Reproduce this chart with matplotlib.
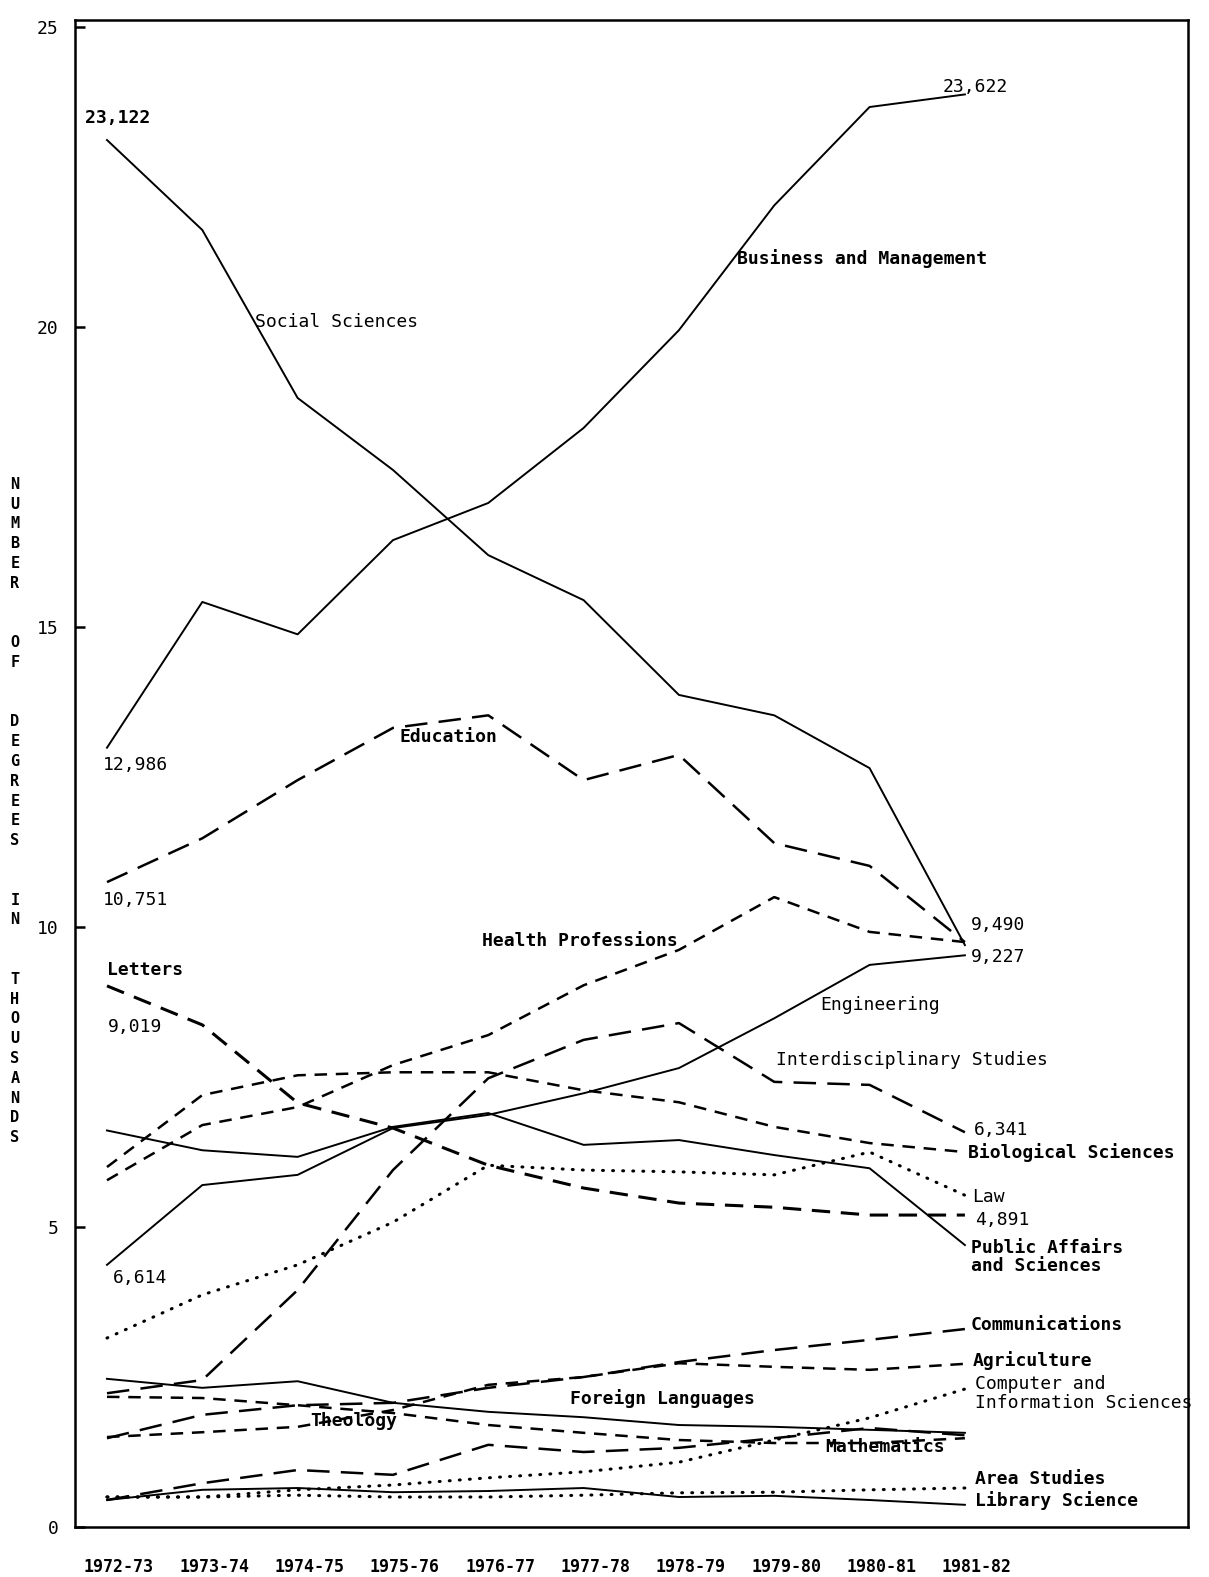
"""Degrees conferred by field of study, 1972-73 to 1981-82 (scanned line chart)."""

import matplotlib.pyplot as plt
from matplotlib import transforms

YEARS = ["1972-73", "1973-74", "1974-75", "1975-76", "1976-77",
         "1977-78", "1978-79", "1979-80", "1980-81", "1981-82"]

# values in thousands
SOCIAL_SCIENCES = [23.12, 21.62, 18.82, 17.62, 16.2, 15.45, 13.87, 13.53, 12.65, 9.7]
BUSINESS = [12.99, 15.42, 14.88, 16.45, 17.07, 18.32, 19.95, 22.03, 23.67, 23.88]
EDUCATION = [10.75, 11.48, 12.45, 13.32, 13.53, 12.45, 12.87, 11.4, 11.02, 9.75]
HEALTH = [5.78, 6.7, 7.0, 7.7, 8.2, 9.03, 9.62, 10.5, 9.92, 9.75]
ENGINEERING = [4.37, 5.7, 5.87, 6.65, 6.87, 7.23, 7.65, 8.48, 9.37, 9.53]
INTERDISCIPLINARY = [2.23, 2.45, 3.95, 5.95, 7.48, 8.12, 8.4, 7.42, 7.37, 6.58]
BIOLOGICAL = [6.0, 7.2, 7.53, 7.58, 7.58, 7.28, 7.08, 6.67, 6.4, 6.25]
PUBLIC_AFFAIRS = [6.61, 6.28, 6.17, 6.67, 6.9, 6.37, 6.45, 6.2, 5.98, 4.7]
LETTERS = [9.02, 8.37, 7.07, 6.65, 6.03, 5.65, 5.4, 5.33, 5.2, 5.2]
LAW = [3.15, 3.87, 4.37, 5.08, 6.03, 5.95, 5.92, 5.87, 6.25, 5.53]
FOREIGN_LANGUAGES = [2.47, 2.32, 2.43, 2.07, 1.92, 1.83, 1.7, 1.67, 1.62, 1.57]
COMMUNICATIONS = [1.48, 1.87, 2.03, 2.07, 2.32, 2.5, 2.75, 2.95, 3.12, 3.3]
AGRICULTURE = [1.5, 1.58, 1.67, 1.95, 2.37, 2.5, 2.73, 2.67, 2.62, 2.72]
MATHEMATICS = [2.17, 2.15, 2.03, 1.9, 1.7, 1.57, 1.45, 1.4, 1.4, 1.48]
THEOLOGY = [0.45, 0.73, 0.95, 0.87, 1.37, 1.25, 1.32, 1.48, 1.65, 1.53]
COMPUTER = [0.5, 0.5, 0.62, 0.7, 0.82, 0.92, 1.08, 1.45, 1.82, 2.3]
AREA_STUDIES = [0.5, 0.5, 0.53, 0.5, 0.5, 0.53, 0.57, 0.58, 0.62, 0.65]
LIBRARY_SCIENCE = [0.45, 0.62, 0.65, 0.58, 0.6, 0.65, 0.5, 0.52, 0.45, 0.37]

FONT = ["DejaVu Sans Mono"]

STYLES = {
    "solid": dict(linestyle="-", linewidth=1.4),
    "long": dict(linestyle=(0, (9, 4.5)), linewidth=1.8),
    "short": dict(linestyle=(0, (5, 3.5)), linewidth=1.8),
    "medium": dict(linestyle=(0, (6, 3.5)), linewidth=2.2),
    "dotted": dict(linestyle=(0, (0.3, 3.0)), linewidth=2.2,
                   dash_capstyle="round"),
}

SERIES = [
    (SOCIAL_SCIENCES, "solid"),
    (BUSINESS, "solid"),
    (EDUCATION, "long"),
    (HEALTH, "short"),
    (ENGINEERING, "solid"),
    (INTERDISCIPLINARY, "long"),
    (BIOLOGICAL, "short"),
    (PUBLIC_AFFAIRS, "solid"),
    (LETTERS, "medium"),
    (LAW, "dotted"),
    (FOREIGN_LANGUAGES, "solid"),
    (COMMUNICATIONS, "long"),
    (AGRICULTURE, "short"),
    (MATHEMATICS, "short"),
    (THEOLOGY, "long"),
    (COMPUTER, "dotted"),
    (AREA_STUDIES, "dotted"),
    (LIBRARY_SCIENCE, "solid"),
]

# (text, x, y, bold) in data coordinates
LABELS = [
    ("23,122", -0.23, 23.48, True),
    ("23,622", 8.77, 24.0, False),
    ("Business and Management", 6.61, 21.15, True),
    ("Social Sciences", 1.55, 20.08, False),
    ("12,986", -0.04, 12.7, False),
    ("Education", 3.07, 13.17, True),
    ("10,751", -0.04, 10.45, False),
    ("Health Professions", 3.93, 9.77, True),
    ("Letters", 0.0, 9.28, True),
    ("9,019", 0.01, 8.33, False),
    ("9,490", 9.06, 10.03, False),
    ("9,227", 9.06, 9.5, False),
    ("Engineering", 7.48, 8.7, False),
    ("Interdisciplinary Studies", 7.02, 7.78, False),
    ("6,341", 9.09, 6.62, False),
    ("Biological Sciences", 9.03, 6.25, True),
    ("Law", 9.08, 5.5, False),
    ("4,891", 9.11, 5.12, False),
    ("Public Affairs\nand Sciences", 9.06, 4.5, True),
    ("6,614", 0.06, 4.15, False),
    ("Communications", 9.06, 3.37, True),
    ("Agriculture", 9.08, 2.78, True),
    ("Computer and\nInformation Sciences", 9.11, 2.22, False),
    ("Foreign Languages", 4.86, 2.15, True),
    ("Theology", 2.13, 1.77, True),
    ("Mathematics", 7.53, 1.33, True),
    ("Area Studies", 9.11, 0.8, True),
    ("Library Science", 9.11, 0.45, True),
]

Y_LABEL = "NUMBER OF DEGREES IN THOUSANDS"


def draw_chart(output_path: str = "out.png"):
    """Draw every series, its labels and the stacked axis title."""
    fig = plt.figure(figsize=(12.09, 15.77), dpi=100)
    ax = fig.add_axes([0.062, 0.0317, 0.9206, 0.9556])

    x = list(range(len(YEARS)))
    for values, style in SERIES:
        ax.plot(x, values, color="black", **STYLES[style])

    ax.set_xlim(-0.336, 11.34)
    ax.set_ylim(0, 25.12)

    ax.set_yticks([0, 5, 10, 15, 20, 25])
    ax.set_yticklabels(["0", "5", "10", "15", "20", "25"], family=FONT,
                       fontsize=13)
    ax.tick_params(axis="y", direction="in", length=7, width=1.8, pad=12)

    ax.set_xticks(x)
    ax.set_xticklabels(YEARS, family=FONT, fontsize=12, fontweight="bold")
    ax.tick_params(axis="x", length=0, pad=22)
    shift = transforms.ScaledTranslation(12 / 100, 0, fig.dpi_scale_trans)
    for lab in ax.get_xticklabels():
        lab.set_transform(lab.get_transform() + shift)

    for spine in ax.spines.values():
        spine.set_linewidth(1.8)

    for text, tx, ty, bold in LABELS:
        ax.text(tx, ty, text, family=FONT, fontsize=13, ha="left",
                va="center", fontweight="bold" if bold else "normal",
                linespacing=1.05)

    # stacked vertical axis title, one letter per line
    stacked = "\n".join("\n" if ch == " " else ch for ch in Y_LABEL)
    fig.text(15 / 1209, 1 - 811 / 1577, stacked, family=FONT, fontsize=11,
             fontweight="bold", ha="center", va="center", linespacing=1.4)

    fig.savefig(output_path, dpi=100)
    plt.close(fig)


if __name__ == "__main__":
    draw_chart()
